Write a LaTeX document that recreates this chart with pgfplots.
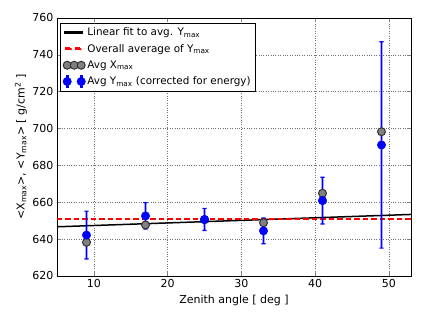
\documentclass[border=0pt]{standalone}
\usepackage{pgfplots}
\pgfplotsset{compat=1.18}
\usepackage{fontspec}
\setmainfont{DejaVu Sans}
\definecolor{markgray}{RGB}{128,128,128}
\definecolor{edgegray}{RGB}{50,50,50}
\begin{document}
\begin{tikzpicture}
\begin{axis}[
  scale only axis, width=354pt, height=258pt,
  xmin=5, xmax=53, ymin=620, ymax=760,
  xtick={10,20,30,40,50}, ytick={620,640,...,760},
  tick align=inside, major tick length=4pt,
  axis line style={line width=0.8pt},
  major tick style={line width=0.6pt},
  grid=major, grid style={dotted, black!55, line width=0.5pt},
  tick label style={font=\fontsize{11}{13}\selectfont},
  /pgf/number format/assume math mode=true,
  /pgf/number format/1000 sep={},
  label style={font=\fontsize{11}{13}\selectfont},
  xlabel={Zenith angle [ deg ]},
  ylabel={<X\textsubscript{max}>, <Y\textsubscript{max}> [ g/cm\textsuperscript{2} ]},
  ylabel style={at={(axis description cs:-0.1017,0.5)}, anchor=center},
  legend style={at={(0.0085,0.981)}, anchor=north west, draw=black,
    font=\fontsize{10.4}{12}\selectfont, row sep=3pt, inner sep=2.8pt},
  legend cell align=left,
]
\addplot[draw=black, line width=1.5pt,
  legend image code/.code={\fill[black] (0pt,-0.75pt) rectangle (17pt,0.75pt);}]
  coordinates {(5,646.7) (53,653.4)};
\addlegendentry{Linear fit to avg. Y\textsubscript{max}}
\addplot[draw=red, line width=1.5pt, dash pattern=on 5.5pt off 3pt,
  legend image code/.code={\fill[red] (1pt,-0.75pt) rectangle (6.5pt,0.75pt) (10.5pt,-0.75pt) rectangle (16pt,0.75pt);}]
  coordinates {(5,651) (53,651)};
\addlegendentry{Overall average of Y\textsubscript{max}}
% error bars of Avg Y_max (value -/+ error), drawn as filled I-beams
\addplot[fill=blue, draw=none, forget plot] coordinates {(8.7,628.9)(9.3,628.9)(9.3,629.5)(9.12,629.5)(9.12,654.9)(9.3,654.9)(9.3,655.5)(8.7,655.5)(8.7,654.9)(8.88,654.9)(8.88,629.5)(8.7,629.5)} --cycle;
\addplot[fill=blue, draw=none, forget plot] coordinates {(16.7,645.1)(17.3,645.1)(17.3,645.7)(17.12,645.7)(17.12,659.5)(17.3,659.5)(17.3,660.1)(16.7,660.1)(16.7,659.5)(16.88,659.5)(16.88,645.7)(16.7,645.7)} --cycle;
\addplot[fill=blue, draw=none, forget plot] coordinates {(24.7,644.4)(25.3,644.4)(25.3,645.0)(25.12,645.0)(25.12,656.4)(25.3,656.4)(25.3,657.0)(24.7,657.0)(24.7,656.4)(24.88,656.4)(24.88,645.0)(24.7,645.0)} --cycle;
\addplot[fill=blue, draw=none, forget plot] coordinates {(32.7,637.2)(33.3,637.2)(33.3,637.8)(33.12,637.8)(33.12,651.2)(33.3,651.2)(33.3,651.8)(32.7,651.8)(32.7,651.2)(32.88,651.2)(32.88,637.8)(32.7,637.8)} --cycle;
\addplot[fill=blue, draw=none, forget plot] coordinates {(40.7,647.9)(41.3,647.9)(41.3,648.5)(41.12,648.5)(41.12,673.3)(41.3,673.3)(41.3,673.9)(40.7,673.9)(40.7,673.3)(40.88,673.3)(40.88,648.5)(40.7,648.5)} --cycle;
\addplot[fill=blue, draw=none, forget plot] coordinates {(48.7,634.8)(49.3,634.8)(49.3,635.4)(49.12,635.4)(49.12,746.8)(49.3,746.8)(49.3,747.4)(48.7,747.4)(48.7,746.8)(48.88,746.8)(48.88,635.4)(48.7,635.4)} --cycle;
\addplot[only marks, mark=*, mark size=4pt, mark options={fill=markgray, draw=edgegray, line width=1pt},
  legend image code/.code={\draw[only marks, mark=*, mark size=4pt, mark options={fill=markgray, draw=edgegray, line width=1pt}] plot coordinates {(2pt,0pt) (9pt,0pt) (16pt,0pt)};}]
  coordinates {(9,638.3) (17,647.7) (25,650.5) (33,648.9) (41,664.9) (49,698.3)};
\addlegendentry{Avg X\textsubscript{max}}
\addplot[only marks, mark=*, mark size=4.2pt, mark options={fill=blue, draw=blue, line width=0.5pt},
  legend image code/.code={\fill[blue] (1.2pt,-6pt) rectangle (2.8pt,6pt) (15.2pt,-6pt) rectangle (16.8pt,6pt);
  \draw[only marks, mark=*, mark size=4.2pt, mark options={fill=blue, draw=blue, line width=0.5pt}] plot coordinates {(2pt,0pt) (16pt,0pt)};}]
  coordinates {(9,642.2) (17,652.6) (25,650.7) (33,644.5) (41,660.9) (49,691.1)};
\addlegendentry{Avg Y\textsubscript{max} (corrected for energy)}
\end{axis}
\pgfresetboundingbox
\path (-57pt,-42pt) rectangle (367pt,276pt);
\end{tikzpicture}
\end{document}
